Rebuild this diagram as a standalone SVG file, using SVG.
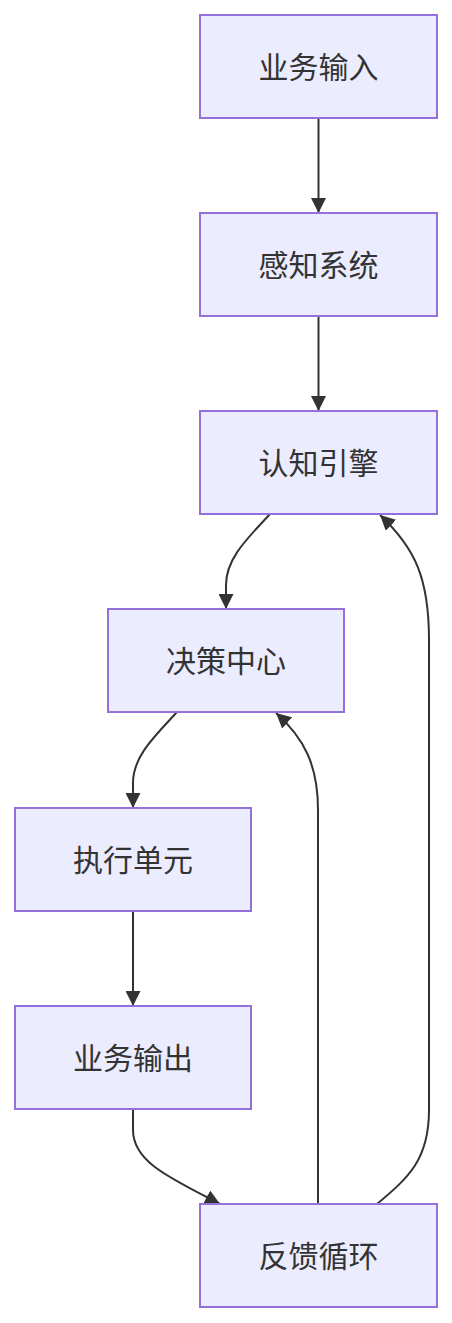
<svg xmlns="http://www.w3.org/2000/svg" width="452" height="1323" viewBox="0 0 452 1323">
<style>
.node rect{fill:#ECECFF;stroke:#9370DB;stroke-width:2;}
.node text{font-family:"Noto Sans CJK SC","Noto Sans",sans-serif;font-size:30px;fill:#333;text-anchor:middle;dominant-baseline:central;}
.edge{fill:none;stroke:#333;stroke-width:2;marker-end:url(#arrow);}
</style>
<defs>
<marker id="arrow" viewBox="0 0 10 10" refX="10" refY="5" markerUnits="userSpaceOnUse" markerWidth="15" markerHeight="15" orient="auto">
<path d="M0,0 L10,5 L0,10 z" fill="#333"/>
</marker>
</defs>
<rect width="452" height="1323" fill="#fff"/>
<g id="connectors">
<path class="edge" d="M318.5,118 L318.5,213"/>
<path class="edge" d="M318.5,316 L318.5,411"/>
<path class="edge" d="M270,514 C248,538 226,558 226,585 L226,609"/>
<path class="edge" d="M177,712 C155,736 133,756 133,783 L133,808"/>
<path class="edge" d="M133,911 L133,1006"/>
<path class="edge" d="M133,1109 L133,1130 C133,1162 170,1178 220,1204"/>
<path class="edge" d="M318,1204 L318,810 C318,765 304,738 276,713"/>
<path class="edge" d="M377,1204 C408,1178 429,1160 429,1110 L429,640 C429,578 415,548 380,515"/>
</g>
<g id="n1" class="node"><rect x="200" y="15" width="237" height="103"/><text x="318.5" y="64.5">业务输入</text></g>
<g id="n2" class="node"><rect x="200" y="213" width="237" height="103"/><text x="318.5" y="262.5">感知系统</text></g>
<g id="n3" class="node"><rect x="200" y="411" width="237" height="103"/><text x="318.5" y="460.5">认知引擎</text></g>
<g id="n4" class="node"><rect x="108" y="609" width="236" height="103"/><text x="226" y="658.5">决策中心</text></g>
<g id="n5" class="node"><rect x="15" y="808" width="236" height="103"/><text x="133" y="857.5">执行单元</text></g>
<g id="n6" class="node"><rect x="15" y="1006" width="236" height="103"/><text x="133" y="1055.5">业务输出</text></g>
<g id="n7" class="node"><rect x="200" y="1204" width="237" height="103"/><text x="318.5" y="1253.5">反馈循环</text></g>
</svg>
